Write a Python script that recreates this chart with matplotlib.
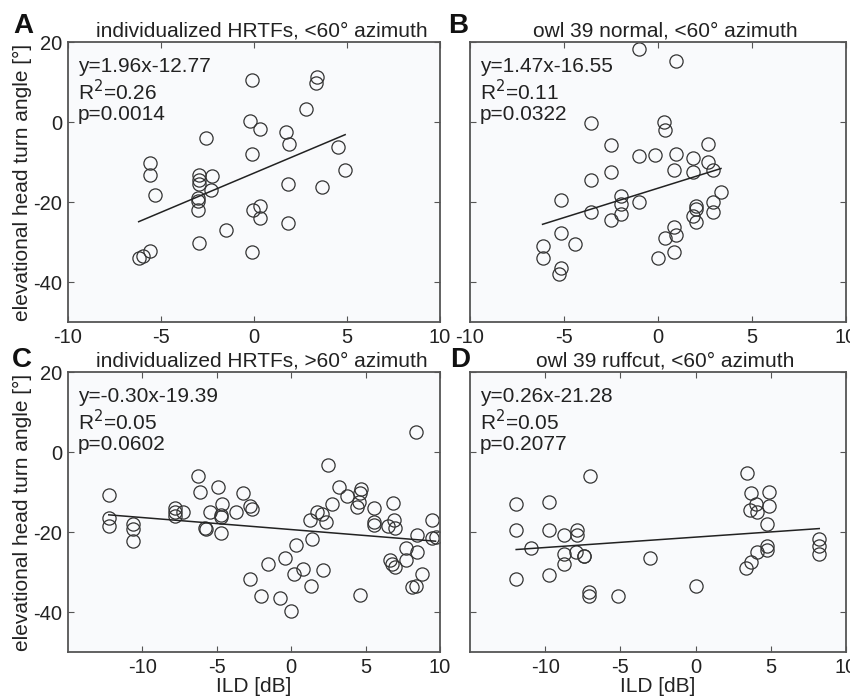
import numpy as np
import matplotlib
matplotlib.use("Agg")
from matplotlib import pyplot as plt

plt.rcParams['font.family'] = ['Liberation Sans', 'DejaVu Sans']
plt.rcParams['axes.unicode_minus'] = False

# panel A: individualized HRTFs, <60 deg azimuth
a_ild = [-0.12, 3.39, 3.36, 2.77, -0.2, 0.32, 1.7, 1.86, -2.57, 4.52, -0.12, -5.6,
         -5.6, 4.9, -2.98, -2.98, -2.98, -2.27, -2.3, 1.84, 3.66, -5.3, -3.0, -3.0,
         -3.0, 0.32, -0.04, 0.32, 1.84, -1.48, -2.98, -0.12, -5.6, -6.2, -5.98]
a_ang = [10.6, 11.3, 9.75, 3.3, 0.25, -1.65, -2.5, -5.4, -4.1, -6.2, -8.0, -10.2,
         -13.2, -12.1, -13.2, -14.5, -15.5, -13.5, -16.9, -15.5, -16.3, -18.2, -19.0, -19.7,
         -21.9, -20.9, -22.1, -24.0, -25.2, -27.1, -30.2, -32.4, -32.2, -33.9, -33.6]

# panel B: owl 39 normal, <60 deg azimuth
b_ild = [-1.01, 0.98, -3.54, 0.32, 0.36, -2.49, 2.67, -1.01, -0.16, 0.98, 1.87, 2.67,
         2.9, 0.84, 1.87, -2.49, -3.54, 3.35, -1.96, -1.96, -1.01, -5.14, 2.9, 2.01,
         2.01, -3.58, 2.9, -1.96, -2.49, 1.87, 2.01, 0.85, -5.14, 0.36, 0.98, -4.41,
         -6.14, -6.14, 0.02, 0.85, -5.14, -5.25]
b_ang = [18.3, 15.3, -0.25, 0.0, -2.07, -5.8, -5.4, -8.4, -8.3, -8.0, -9.1, -10.1,
         -12.1, -12.1, -12.4, -12.4, -14.5, -17.4, -18.6, -20.4, -20.0, -19.6, -20.0, -21.1,
         -21.7, -22.4, -22.5, -23.1, -24.4, -23.6, -25.0, -26.3, -27.7, -29.1, -28.3, -30.6,
         -31.0, -34.0, -33.9, -32.6, -36.6, -38.1]

# panel C: individualized HRTFs, >60 deg azimuth
c_ild = [8.41, 2.47, -6.28, -6.14, -4.91, -3.25, -12.26, 3.2, 3.77, 4.66, 4.6, 4.55,
         4.44, 6.86, -4.64, -2.74, -2.62, -3.74, -5.49, -4.75, -4.69, -7.83, -7.83, -7.26,
         -7.78, -12.26, -12.26, -10.63, -10.63, -10.65, -5.81, -5.72, -4.75, 9.48, 5.56, 5.56,
         5.56, 6.52, 6.9, 6.95, 2.76, 1.75, 2.04, 2.31, 1.26, 1.41, 0.34, 8.48,
         9.48, 9.7, 7.69, 8.48, 7.74, 6.61, 6.79, 6.97, -0.43, -1.55, 0.81, 0.22,
         2.13, 8.81, -2.8, 1.3, 8.14, 8.36, -2.02, -0.76, 4.6, -0.04]
c_ang = [4.96, -3.3, -5.95, -10.1, -8.7, -10.3, -10.7, -8.7, -10.9, -9.3, -10.3, -12.4,
         -13.8, -12.8, -13.0, -13.6, -14.3, -15.0, -15.0, -15.7, -16.3, -14.0, -14.9, -15.0,
         -15.9, -16.5, -18.4, -18.0, -19.3, -22.3, -19.0, -19.2, -20.2, -17.1, -14.0, -17.4,
         -18.3, -18.6, -16.9, -19.0, -13.1, -15.0, -15.5, -17.6, -17.1, -21.7, -23.3, -20.8,
         -21.5, -21.3, -24.1, -25.0, -27.1, -27.1, -28.1, -28.8, -26.6, -27.9, -29.2, -30.6,
         -29.5, -30.6, -31.7, -33.6, -33.7, -33.5, -36.1, -36.4, -35.7, -39.8]

# panel D: owl 39 ruffcut, <60 deg azimuth
d_ild = [3.4, -7.04, 3.67, 4.89, 4.0, 4.89, 3.62, 4.11, -11.93, -9.73, 4.78, -11.93,
         -9.73, -8.78, -7.89, -7.89, -10.93, 8.22, 8.22, 8.22, 4.78, 4.78, 4.07, -8.78,
         -7.93, -7.44, -7.4, -3.04, -8.78, 3.67, 3.33, -11.93, -9.73, 0.04, -7.11, -7.11,
         -5.18]
d_ang = [-5.2, -5.95, -10.2, -10.1, -13.0, -13.5, -14.5, -14.9, -13.1, -12.6, -18.0, -19.6,
         -19.4, -20.7, -19.6, -20.7, -24.1, -21.7, -23.6, -25.4, -23.6, -24.6, -25.0, -25.6,
         -25.0, -25.9, -26.0, -26.4, -27.9, -27.5, -28.9, -31.7, -30.8, -33.5, -34.9, -36.0,
         -36.1]

titles = ["individualized HRTFs, <60\u00b0 azimuth", "owl 39 normal, <60\u00b0 azimuth",
          "individualized HRTFs, >60\u00b0 azimuth", "owl 39 ruffcut, <60\u00b0 azimuth"]
letters = ["A", "B", "C", "D"]
slopes = [1.96, 1.47, -0.30, 0.26]
intercepts = [-12.77, -16.55, -19.39, -21.28]
r2 = ["0.26", "0.11", "0.05", "0.05"]
pvals = ["0.0014", "0.0322", "0.0602", "0.2077"]
xlims = [(-10, 10), (-10, 10), (-15, 10), (-15, 10)]

W, H = 850, 697
fig = plt.figure(figsize=(8.5, 6.97), dpi=100)
fig.patch.set_facecolor("white")

# axes boxes in pixels: left, top, right, bottom
boxes = [(68, 42, 440, 322), (470, 42, 846, 322),
         (68, 372, 440, 652), (470, 372, 846, 652)]
# panel letter baseline positions in pixels
letter_pos = [(13, 33), (448, 33), (12, 367), (450, 367)]

data = [(a_ild, a_ang), (b_ild, b_ang), (c_ild, c_ang), (d_ild, d_ang)]
edge = "#333333"
spine_col = "#555555"
fs = 15

for i in range(4):
    l, t, r, b = boxes[i]
    ax = fig.add_axes([l / W, 1 - b / H, (r - l) / W, (b - t) / H])
    ax.set_facecolor("#f9fafc")
    x, y = np.array(data[i][0]), np.array(data[i][1])
    ax.plot(x, y, "o", mfc="none", mec=edge, ms=9.5, mew=0.9)
    xx = np.array([x.min(), x.max()])
    ax.plot(xx, slopes[i] * xx + intercepts[i], "-", color="#222222", lw=1.1)
    ax.set_xlim(*xlims[i])
    ax.set_ylim(-50, 20)
    ax.set_xticks(range(xlims[i][0] + (0 if xlims[i][0] == -10 else 5), 11, 5))
    ax.set_yticks([-40, -20, 0, 20])
    ax.tick_params(direction="in", top=True, right=True, labelsize=14.5,
                   length=4, width=0.8, color=spine_col, pad=4, labelcolor="#222222")
    for s in ax.spines.values():
        s.set_color(spine_col)
        s.set_linewidth(1.3)
    if i in (1, 3):
        ax.set_yticklabels([])
    else:
        ax.set_ylabel("elevational head turn angle [\u00b0]", fontsize=fs,
                      color="#222222", labelpad=1)
    if i in (2, 3):
        ax.set_xlabel("ILD [dB]", fontsize=fs, color="#222222", labelpad=0)
    ax.set_title(titles[i], fontsize=fs, color="#222222", pad=4, x=0.52)
    sign = "-" if intercepts[i] < 0 else "+"
    txt = "y=%.2fx%s%.2f\nR$^2$=%s\np=%s" % (slopes[i], sign, abs(intercepts[i]), r2[i], pvals[i])
    ax.text(0.027, 0.945, txt, transform=ax.transAxes, fontsize=fs, va="top", ha="left",
            color="#222222", linespacing=1.1)
    lx, ly = letter_pos[i]
    fig.text(lx / W, 1 - ly / H, letters[i], fontsize=20, fontweight="bold",
             ha="left", va="baseline", color="#111111")

fig.savefig("out.png", dpi=100)
